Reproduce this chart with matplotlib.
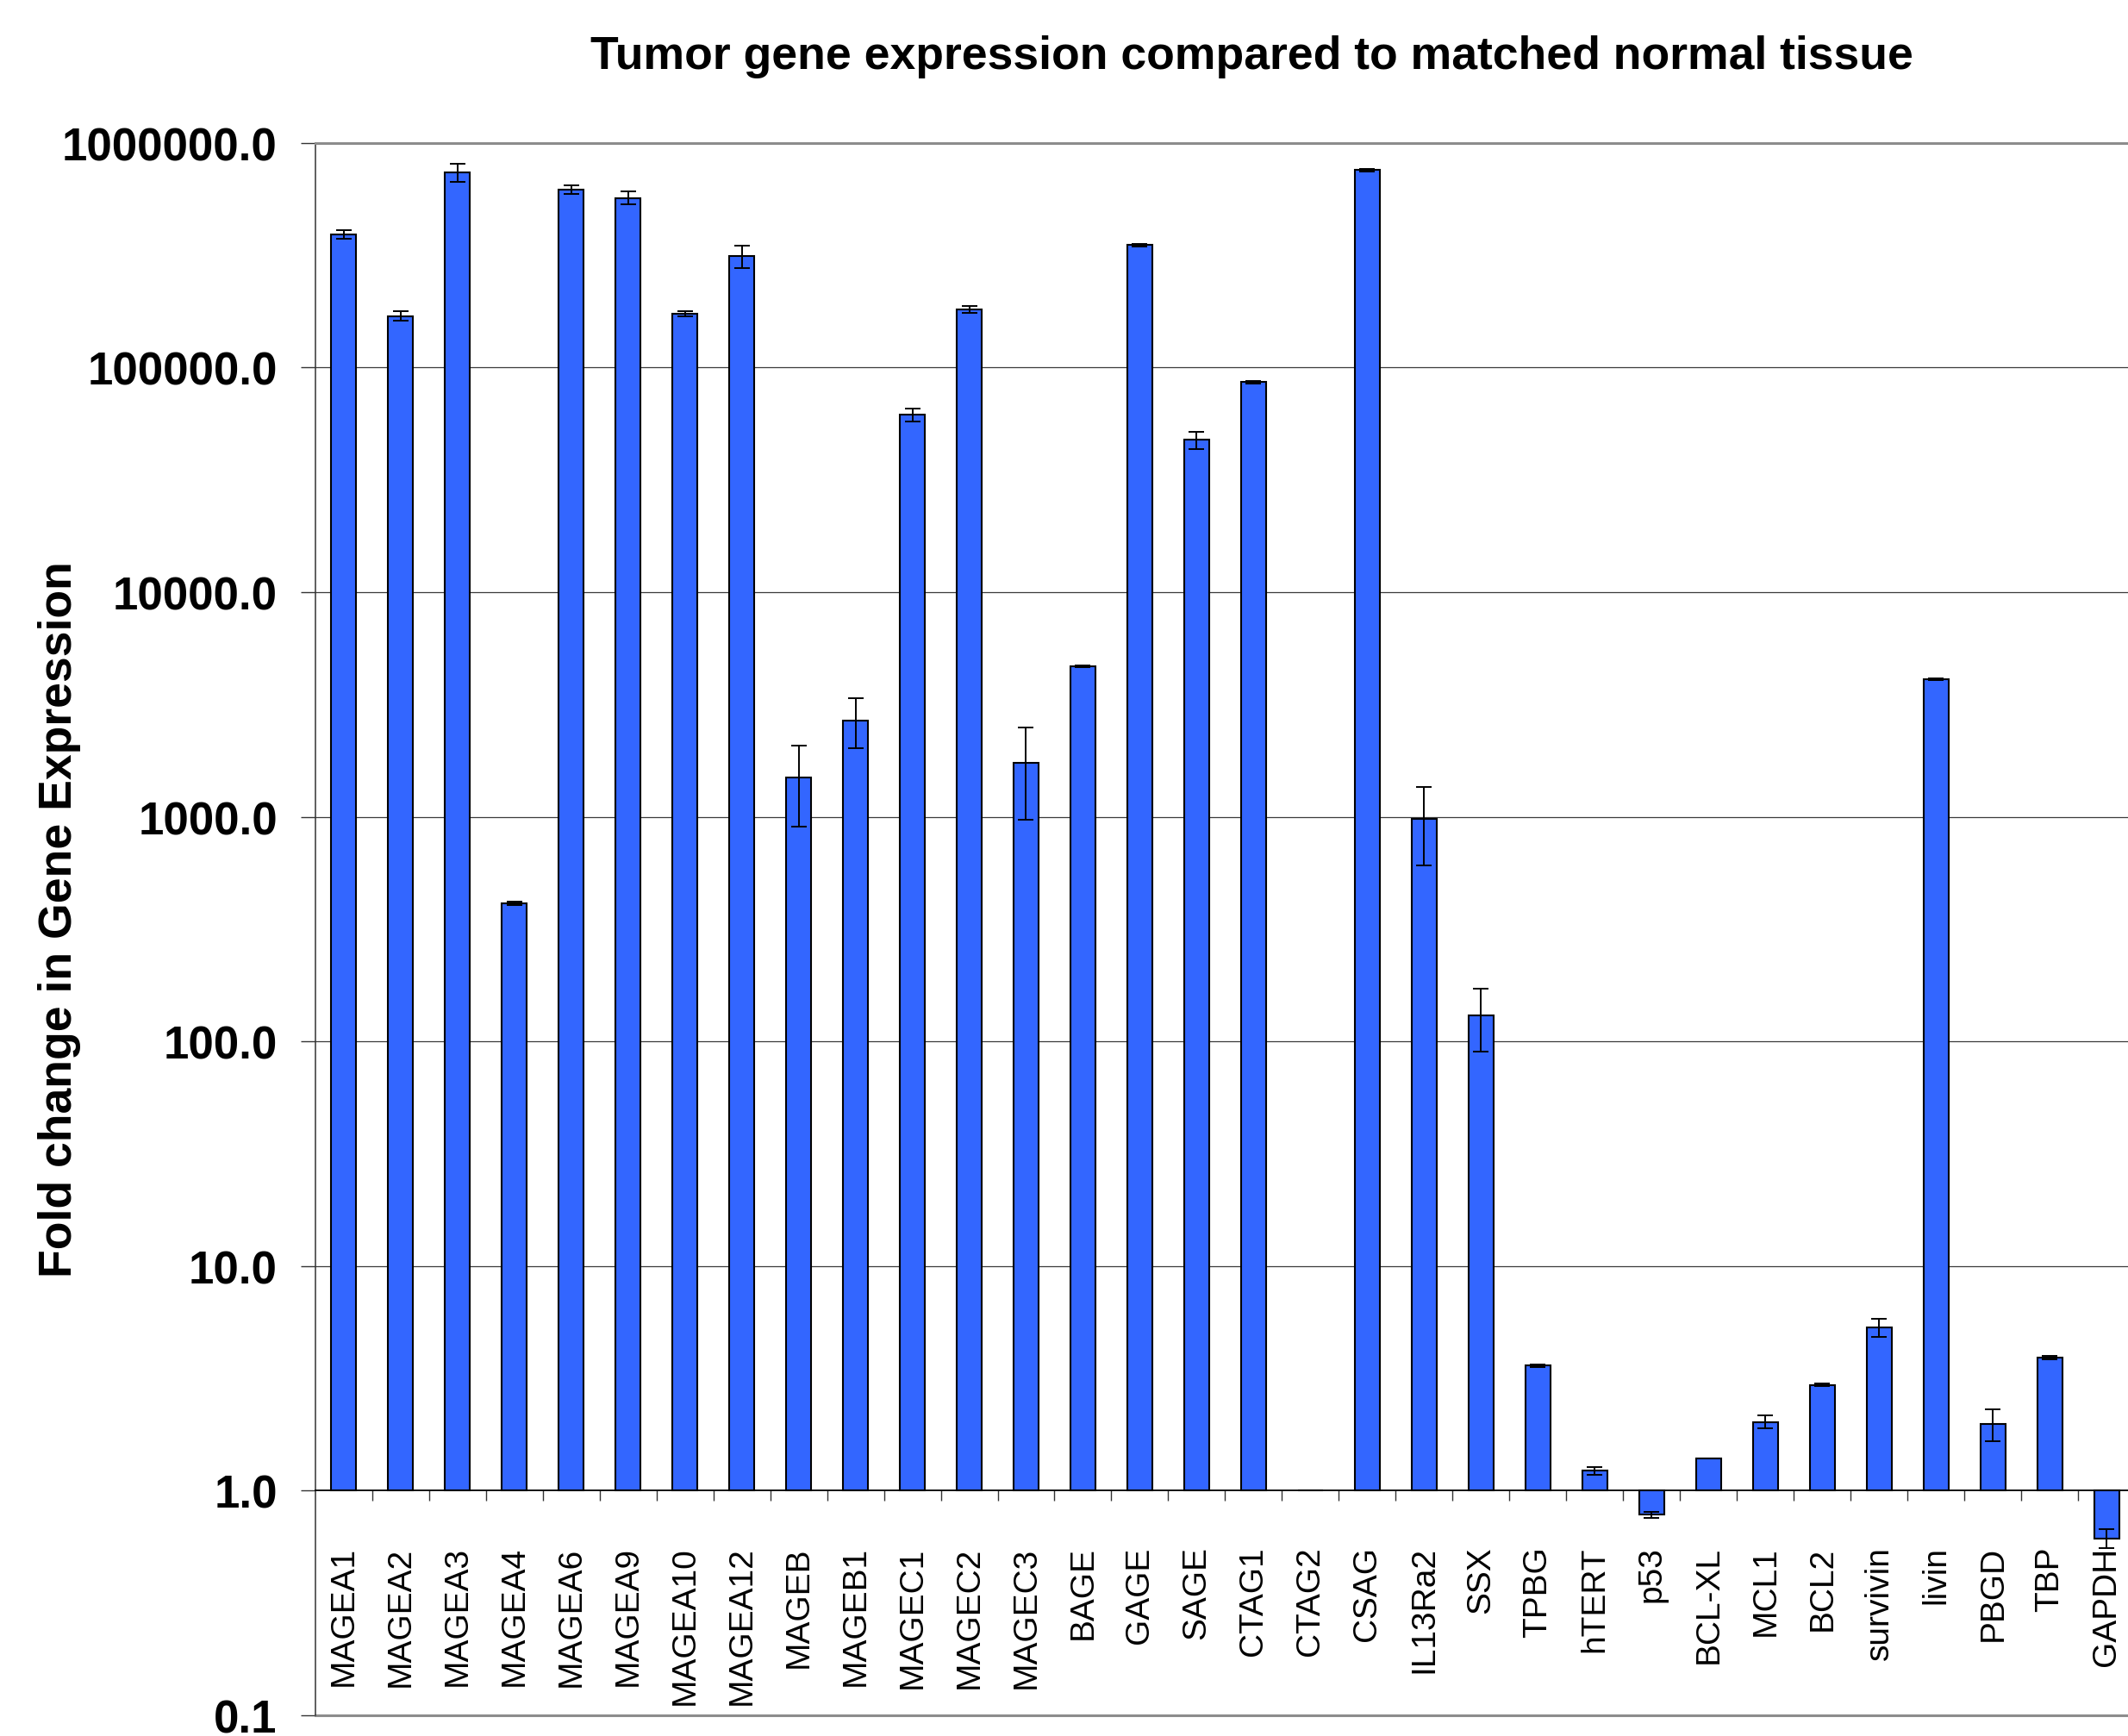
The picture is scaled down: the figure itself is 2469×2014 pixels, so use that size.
import numpy as np
import matplotlib
matplotlib.use("Agg")
import matplotlib.pyplot as plt
from matplotlib.ticker import FixedLocator, FuncFormatter

plt.rcParams['font.family'] = ['Liberation Sans', 'DejaVu Sans']

# fold change per gene and its error
genes = ['MAGEA1', 'MAGEA2', 'MAGEA3', 'MAGEA4', 'MAGEA6', 'MAGEA9', 'MAGEA10',
         'MAGEA12', 'MAGEB', 'MAGEB1', 'MAGEC1', 'MAGEC2', 'MAGEC3', 'BAGE',
         'GAGE', 'SAGE', 'CTAG1', 'CTAG2', 'CSAG', 'IL13Ra2', 'SSX', 'TPBG',
         'hTERT', 'p53', 'BCL-XL', 'MCL1', 'BCL2', 'survivin', 'livin', 'PBGD',
         'TBP', 'GAPDH']
fold = [390800, 169600, 738800, 412, 619500, 568800, 173200, 313500, 1491,
        2690, 61800, 181500, 1737, 4674, 350400, 47560, 86100, 1.0, 756700,
        980, 130.8, 3.60, 1.225, 0.783, 1.394, 2.025, 2.95, 5.33, 4100, 1.978,
        3.913, 0.614]
err = [17000, 8000, 67000, 8, 28000, 38000, 4500, 36000, 585, 670, 4100, 7000,
       770, 40, 4000, 4200, 1000, 0.0, 10000, 375, 41, 0.05, 0.045, 0.025, 0.0,
       0.135, 0.04, 0.48, 30, 0.32, 0.06, 0.06]
decades = [0.1, 1, 10, 100, 1000, 10000, 100000, 1000000]

title = 'Tumor gene expression compared to matched normal tissue'
ylabel = 'Fold change in Gene Expression'

W, H = 2469, 2015
fig = plt.figure(figsize=(W / 100, H / 100), dpi=100)
ax = fig.add_axes([365.5 / W, 24 / H, 2112 / W, 1824.3 / H])

x = np.arange(len(genes))
fold = np.array(fold)
ax.set_yscale('log')
ax.set_ylim(0.1, 1e6)
ax.set_xlim(-0.5, len(genes) - 0.5)
ax.set_axisbelow(True)

# bars grow from 1.0 (up or down)
ax.bar(x, fold - 1.0, bottom=1.0, width=0.435, color='#3366ff',
       edgecolor='black', linewidth=1.5, zorder=3)
ax.errorbar(x, fold, yerr=err, fmt='none', ecolor='black', elinewidth=1.4,
            capsize=6.8, capthick=1.4, zorder=4)

# gridlines at the inner decades
for d in decades[2:-1]:
    ax.axhline(d, color='#3a3a3a', lw=0.9, zorder=1)

ax.spines['bottom'].set_position(('data', 1.0))
ax.spines['bottom'].set_color('black')
ax.spines['bottom'].set_linewidth(1.3)
ax.spines['bottom'].set_zorder(5)
ax.spines['top'].set_color('#8c8c8c')
ax.spines['top'].set_linewidth(2.2)
ax.spines['right'].set_visible(False)
ax.spines['left'].set_color('#333333')
ax.spines['left'].set_linewidth(1.1)
ax.axhline(0.1, color='#8c8c8c', lw=2.2, clip_on=False)

ax.xaxis.set_major_locator(FixedLocator(x))
ax.set_xticklabels(genes, rotation=90, fontsize=28)
ax.xaxis.set_minor_locator(FixedLocator(x[:-1] + 0.5))
ax.tick_params(axis='x', which='major', length=0, pad=46)
ax.tick_params(axis='x', which='minor', direction='out', length=8.6,
               width=1.0, color='#333333')

ax.yaxis.set_major_locator(FixedLocator(decades))
ax.yaxis.set_minor_locator(FixedLocator([]))
ax.yaxis.set_major_formatter(FuncFormatter(lambda v, p: f'{v:.1f}'))
ax.tick_params(axis='y', which='major', direction='out', length=12.5,
               width=1.0, color='#333333', pad=19, labelsize=38)
for lab in ax.get_yticklabels():
    lab.set_fontweight('bold')

fig.text(1452 / W, 1 - 66 / H, title, ha='center', va='center',
         fontsize=38.5, fontweight='bold')
fig.text(69 / W, 1 - 1067 / H, ylabel, ha='center', va='center',
         rotation=90, fontsize=38.5, fontweight='bold')

fig.savefig('out.png', dpi=100, facecolor='white')
